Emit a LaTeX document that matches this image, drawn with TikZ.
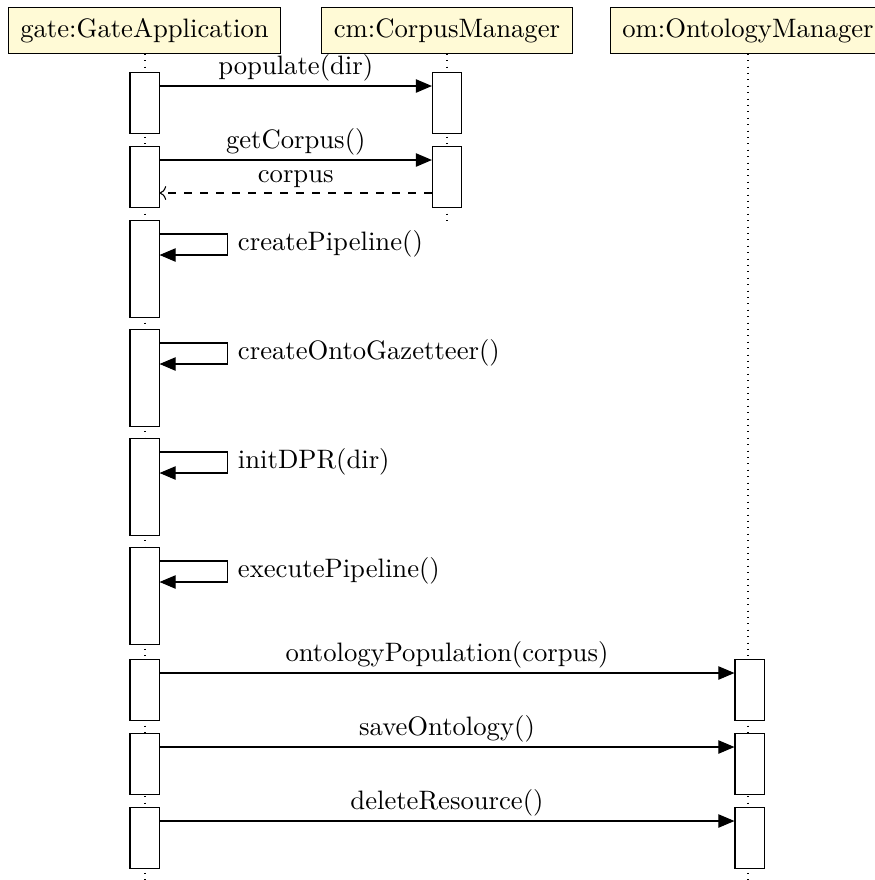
\documentclass[tikz,border=0pt]{standalone}
\usepackage{tikz}
\usetikzlibrary{calc,arrows.meta,positioning}
\definecolor{hdrfill}{RGB}{255,250,214}

\begin{document}
\begin{tikzpicture}[x=0.375pt, y=-0.375pt,
	inst/.style={draw, fill=hdrfill, inner xsep=4.6pt, minimum height=17pt},
	act/.style={draw, fill=white, inner sep=0pt, minimum width=10.9pt, minimum height=23pt, anchor=north},
	tall/.style={minimum height=36.4pt},
	call/.style={-{Triangle[length=6pt,width=5pt]}},
	ret/.style={dashed, ->},
	msg/.style={midway, above, inner ysep=1.8pt},
	life/.style={dotted}]
		\useasboundingbox (0,0) rectangle (875,880);
		% instances
		\node[inst] (gate) at (144.5,30.5) {gate:GateApplication};
		\node[inst] (cm) at (447,30.5) {cm:CorpusManager};
		\node[inst] (om) at (748,30.5) {om:OntologyManager};
		% lifelines
		\coordinate (gateend) at (145,880);
		\coordinate (cmend) at (447,222);
		\coordinate (omend) at (748,880);
		\draw[life] (gate.south -| gateend) -- (gateend);
		\draw[life] (cm.south -| cmend) -- (cmend);
		\draw[life] (om.south -| omend) -- (omend);
		% activations
		\node[act] (g1) at (144.5,72) {};
		\node[act] (g2) at (144.5,146) {};
		\node[act,tall] (g3) at (144.5,220) {};
		\node[act,tall] (g4) at (144.5,329) {};
		\node[act,tall] (g5) at (144.5,438) {};
		\node[act,tall] (g6) at (144.5,547) {};
		\node[act] (g7) at (144.5,659) {};
		\node[act] (g8) at (144.5,733) {};
		\node[act] (g9) at (144.5,807) {};
		\node[act] (c1) at (447,72) {};
		\node[act] (c2) at (447,146) {};
		\node[act] (o1) at (749.5,659) {};
		\node[act] (o2) at (749.5,733) {};
		\node[act] (o3) at (749.5,807) {};
		% messages
		\draw[call] ($(g1.north east)+(0,14)$) -- ($(c1.north west)+(0,14)$)
			node[msg] {populate(dir)};
		\draw[call] ($(g2.north east)+(0,14)$) -- ($(c2.north west)+(0,14)$)
			node[msg] {getCorpus()};
		\draw[ret] ($(c2.north west)+(0,47)$) -- ($(g2.north east)+(0,47)$)
			node[msg] {corpus};
		% self calls
		\foreach \b/\t in {g3/createPipeline(), g4/createOntoGazetteer(), g5/initDPR(dir), g6/executePipeline()} {
			\draw[call] ($(\b.north east)+(0,14)$) -- ++(68,0) -- ++(0,21) -- ($(\b.north east)+(0,35)$);
			\node[anchor=west] at ($(\b.north east)+(69,24)$) {\t};
		}
		\draw[call] ($(g7.north east)+(0,14)$) -- ($(o1.north west)+(0,14)$)
			node[msg] {ontologyPopulation(corpus)};
		\draw[call] ($(g8.north east)+(0,14)$) -- ($(o2.north west)+(0,14)$)
			node[msg] {saveOntology()};
		\draw[call] ($(g9.north east)+(0,14)$) -- ($(o3.north west)+(0,14)$)
			node[msg] {deleteResource()};
	\end{tikzpicture}
\end{document}
